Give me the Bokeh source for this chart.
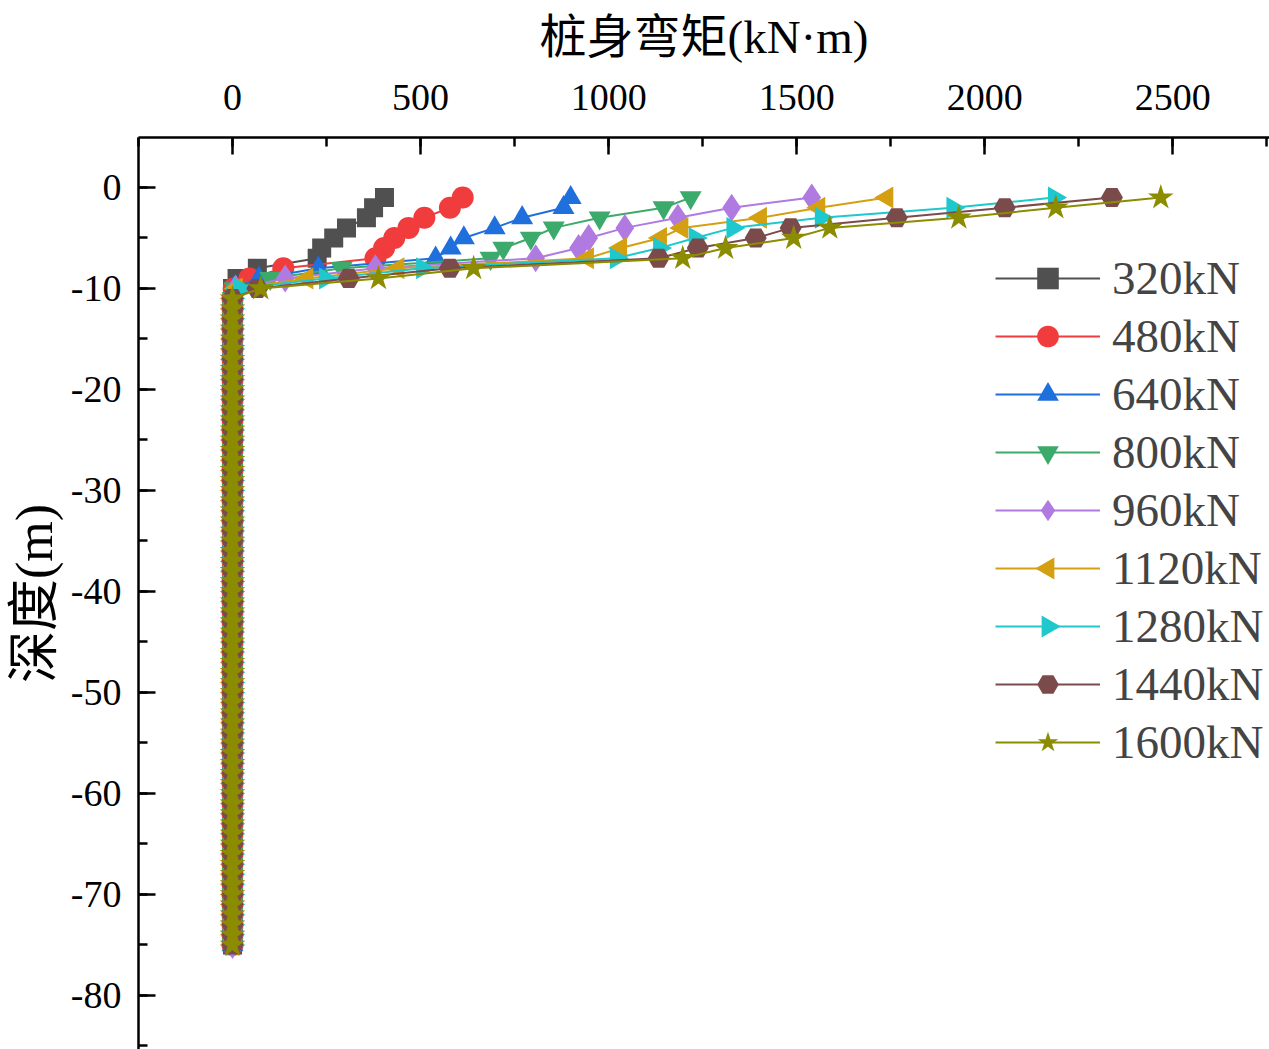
import numpy as np
from bokeh.plotting import figure
from bokeh.models import Range1d, SingleIntervalTicker, Legend, LegendItem, CustomJSTickFormatter
from bokeh.embed import file_html
from bokeh.resources import INLINE

# depth (m) of each measured point
depth = list(range(-1, -76, -1))
# below -10 m the moment is ~0 for every load
deep_tail = [0] * 65

# bending moment (kN*m) for depths -1 .. -10 m
m320 = [404, 375, 356, 303, 269, 237, 225, 66, 12, 0]
m480 = [612, 578, 510, 468, 430, 403, 380, 135, 45, 3]
m640 = [899, 880, 770, 697, 615, 580, 540, 228, 70, 3]
m800 = [1218, 1146, 976, 854, 793, 720, 686, 290, 100, 5]
m960 = [1540, 1327, 1184, 1043, 947, 920, 806, 380, 140, 8]
m1120 = [1740, 1559, 1404, 1195, 1138, 1032, 944, 440, 198, 10]
m1280 = [2185, 1915, 1565, 1330, 1230, 1135, 1020, 505, 247, 20]
m1440 = [2338, 2053, 1766, 1484, 1391, 1237, 1133, 578, 309, 66]
m1600 = [2468, 2189, 1931, 1588, 1492, 1311, 1197, 641, 388, 75]

labels = ["320kN", "480kN", "640kN", "800kN", "960kN", "1120kN", "1280kN", "1440kN", "1600kN"]
series = [m320, m480, m640, m800, m960, m1120, m1280, m1440, m1600]
colors = ["#505050", "#f03c3c", "#1f6fdc", "#3caa6a", "#b07ae0", "#d4a012", "#1ec8cc", "#7b4a4a", "#8c8c00"]
markers = ["square", "circle", "triangle", "inverted_triangle", "diamond", "triangle", "triangle", "hex", "star"]
angles = [0, 0, 0, 0, 0, np.pi / 2, -np.pi / 2, 0, 0]
sizes = [19, 22, 22, 22, 28, 22, 22, 22, 27]

SERIF = "'Liberation Serif', 'Noto Sans CJK SC'"

# layout (screen px) of the plotting frame
W, H = 1269, 1049
FL, FT = 138, 137
X0, X1 = -250, 2757
Y0, Y1 = -85.35, 4.95

p = figure(width=W, height=H,
           x_range=Range1d(X0, X1), y_range=Range1d(Y0, Y1),
           x_axis_location="above",
           output_backend="svg", toolbar_location=None,
           min_border_left=FL, min_border_top=FT,
           min_border_right=0, min_border_bottom=0)
p.outline_line_color = None
p.xgrid.visible = False
p.ygrid.visible = False
p.background_fill_color = "white"
p.border_fill_color = "white"

p.xaxis.ticker = SingleIntervalTicker(interval=500, num_minor_ticks=2)
p.yaxis.ticker = SingleIntervalTicker(interval=10, num_minor_ticks=2)
p.xaxis.formatter = CustomJSTickFormatter(code="return String(Math.round(tick));")
p.yaxis.formatter = CustomJSTickFormatter(code="return String(Math.round(tick));")

for ax in [p.xaxis[0], p.yaxis[0]]:
    ax.axis_line_width = 2.5
    ax.axis_line_color = "black"
    ax.major_tick_in = 17
    ax.major_tick_out = 0
    ax.minor_tick_in = 9
    ax.minor_tick_out = 0
    ax.major_tick_line_width = 2.5
    ax.minor_tick_line_width = 2.5
    ax.major_tick_line_color = "black"
    ax.minor_tick_line_color = "black"
    ax.major_label_text_font = SERIF
    ax.major_label_text_font_size = "38px"
    ax.major_label_text_color = "black"
    ax.axis_label_text_font = SERIF
    ax.axis_label_text_font_style = "normal"
    ax.axis_label_text_color = "black"

p.xaxis.axis_label = "桩身弯矩(kN·m)"
p.yaxis.axis_label = "深度(m)"
p.xaxis.axis_label_text_font_size = "47px"
p.yaxis.axis_label_text_font_size = "52px"
p.xaxis.major_label_standoff = 28
p.xaxis.axis_label_standoff = 19
p.yaxis.major_label_standoff = 17
p.yaxis.axis_label_standoff = 5

items = []
for lab, vals, col, mk, ang, sz in zip(labels, series, colors, markers, angles, sizes):
    xs = vals + deep_tail
    r1 = p.line(xs, depth, line_color=col, line_width=2)
    r2 = p.scatter(xs, depth, marker=mk, angle=ang, size=sz,
                   fill_color=col, line_color=col, line_width=0)
    rs = [r1] if ang != 0 else [r1, r2]
    items.append(LegendItem(label=lab, renderers=rs))

# legend geometry (screen px, relative to frame)
LEG_X, LEG_Y = 857, 280
GW, GH, SP = 105, 54, 4
legend = Legend(items=items, location=(LEG_X, LEG_Y),
                glyph_width=GW, glyph_height=GH, label_height=GH,
                label_text_font=SERIF, label_text_font_size="47px",
                label_standoff=12, spacing=SP, padding=0, margin=0,
                border_line_alpha=0, background_fill_alpha=0)
p.add_layout(legend)

# rotated-triangle legend symbols (Bokeh legends ignore marker angle)
FW, FH = W - FL, H - FT
leg_top = H - LEG_Y - (len(items) * GH + (len(items) - 1) * SP)
for i, (col, mk, ang) in enumerate(zip(colors, markers, angles)):
    if ang == 0:
        continue
    sx = FL + LEG_X + GW / 2
    sy = leg_top + i * (GH + SP) + GH / 2
    dx = X0 + (sx - FL) * (X1 - X0) / FW
    dy = Y1 - (sy - FT) * (Y1 - Y0) / FH
    p.scatter([dx], [dy], marker=mk, angle=ang, size=22,
              fill_color=col, line_color=col, line_width=0)

open("out.html", "w").write(file_html(p, INLINE))
